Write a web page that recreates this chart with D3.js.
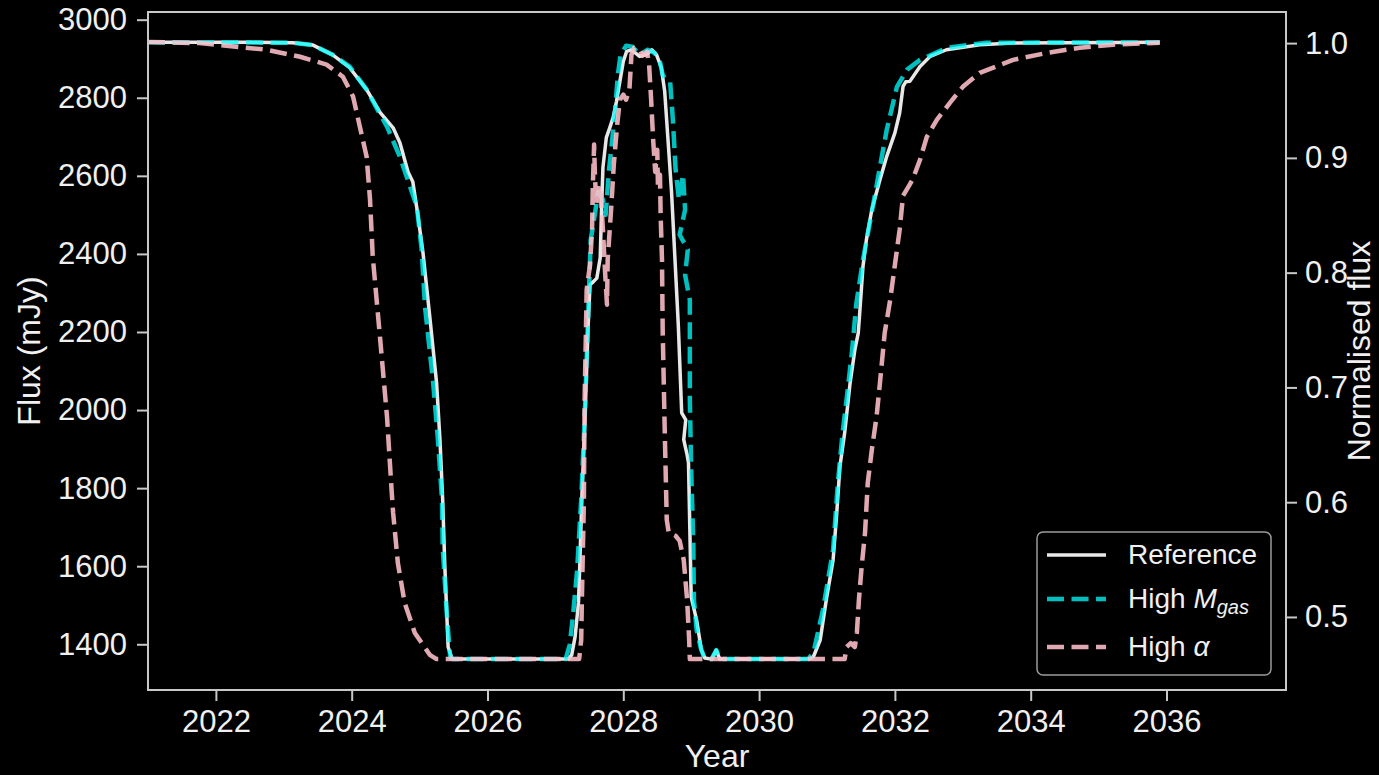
<!DOCTYPE html>
<html>
<head>
<meta charset="utf-8">
<script src="https://cdn.jsdelivr.net/npm/d3@7"></script>
<style>
  html, body { margin: 0; padding: 0; background: #000; overflow: hidden; }
  svg { display: block; }
  text { font-family: "Liberation Sans", Arial, Helvetica, sans-serif; fill: #f0f0f0; }
</style>
</head>
<body>
<svg id="chart" width="1379" height="775"></svg>
<script>
// Axis ticks
const yearTicks = [2022, 2024, 2026, 2028, 2030, 2032, 2034, 2036];
const fluxTicks = [1400, 1600, 1800, 2000, 2200, 2400, 2600, 2800, 3000];
const normTicks = [0.5, 0.6, 0.7, 0.8, 0.9, 1.0];

// Flux used to normalise the right-hand axis (mJy)
const normFlux = 2940;

// Light curves: [year, flux in mJy]
const referenceSeries = [
  [2021.00, 2942], [2022.50, 2942], [2023.13, 2941], [2023.43, 2935], [2023.72, 2910],
  [2023.97, 2877], [2024.22, 2821], [2024.42, 2762], [2024.61, 2723], [2024.71, 2685],
  [2024.83, 2610], [2024.90, 2585], [2024.97, 2505], [2025.05, 2403], [2025.15, 2239],
  [2025.25, 2070], [2025.30, 1924], [2025.34, 1770], [2025.37, 1608], [2025.42, 1393],
  [2025.48, 1362], [2027.19, 1362], [2027.24, 1373], [2027.29, 1419], [2027.34, 1506],
  [2027.36, 1608], [2027.39, 1778], [2027.43, 1949], [2027.48, 2206], [2027.51, 2321],
  [2027.56, 2329], [2027.61, 2338], [2027.66, 2390], [2027.68, 2518], [2027.70, 2621],
  [2027.75, 2698], [2027.80, 2723], [2027.85, 2749], [2027.90, 2791], [2027.95, 2842],
  [2028.00, 2893], [2028.05, 2919], [2028.12, 2923], [2028.24, 2906], [2028.34, 2910],
  [2028.42, 2923], [2028.49, 2910], [2028.56, 2877], [2028.61, 2816], [2028.66, 2688],
  [2028.71, 2560], [2028.76, 2390], [2028.81, 2218], [2028.86, 1993], [2028.92, 1975],
  [2028.89, 1924], [2028.94, 1885], [2028.96, 1865], [2028.98, 1693], [2029.00, 1521],
  [2029.08, 1462], [2029.15, 1385], [2029.20, 1365], [2029.30, 1362], [2029.37, 1385],
  [2029.42, 1362], [2030.72, 1362], [2030.80, 1368], [2030.90, 1411], [2030.99, 1514],
  [2031.09, 1616], [2031.14, 1727], [2031.19, 1855], [2031.26, 1941], [2031.34, 2069],
  [2031.41, 2154], [2031.46, 2197], [2031.48, 2244], [2031.53, 2368], [2031.58, 2436],
  [2031.66, 2513], [2031.78, 2590], [2031.88, 2650], [2032.00, 2710], [2032.07, 2761],
  [2032.12, 2829], [2032.16, 2841], [2032.22, 2842], [2032.37, 2880], [2032.52, 2906],
  [2032.76, 2923], [2033.25, 2936], [2033.74, 2940], [2035.90, 2942]
];

const highGasSeries = [
  [2021.00, 2942], [2023.13, 2941], [2023.43, 2935], [2023.72, 2910], [2023.97, 2880],
  [2024.22, 2821], [2024.42, 2757], [2024.52, 2726], [2024.71, 2649], [2024.86, 2572],
  [2024.96, 2521], [2025.03, 2411], [2025.08, 2264], [2025.20, 2070], [2025.27, 1924],
  [2025.33, 1770], [2025.34, 1649], [2025.40, 1480], [2025.45, 1367], [2025.49, 1362],
  [2027.15, 1362], [2027.21, 1398], [2027.26, 1475], [2027.32, 1590], [2027.38, 1770],
  [2027.43, 1975], [2027.49, 2282], [2027.52, 2436], [2027.58, 2500], [2027.63, 2559],
  [2027.70, 2539], [2027.74, 2500], [2027.79, 2616], [2027.83, 2680], [2027.88, 2769],
  [2027.92, 2859], [2027.96, 2910], [2028.04, 2933], [2028.13, 2931], [2028.24, 2910],
  [2028.36, 2923], [2028.46, 2915], [2028.54, 2892], [2028.58, 2859], [2028.61, 2851],
  [2028.69, 2841], [2028.73, 2744], [2028.77, 2616], [2028.82, 2539], [2028.88, 2603],
  [2028.91, 2513], [2028.83, 2449], [2028.95, 2411], [2028.91, 2346], [2028.98, 2282],
  [2028.98, 2026], [2029.00, 1847], [2029.03, 1667], [2029.04, 1514], [2029.08, 1437],
  [2029.14, 1391], [2029.20, 1362], [2029.30, 1362], [2029.37, 1385], [2029.42, 1362],
  [2030.72, 1362], [2030.80, 1378], [2030.94, 1488], [2031.09, 1642], [2031.16, 1813],
  [2031.23, 1942], [2031.31, 2059], [2031.37, 2154], [2031.43, 2270], [2031.53, 2385],
  [2031.68, 2526], [2031.78, 2623], [2031.88, 2718], [2032.03, 2828], [2032.18, 2872],
  [2032.37, 2897], [2032.77, 2928], [2033.35, 2941], [2035.90, 2942]
];

const highAlphaSeries = [
  [2021.00, 2943], [2021.76, 2940], [2022.75, 2923], [2023.24, 2905], [2023.63, 2885],
  [2023.87, 2854], [2024.02, 2803], [2024.12, 2726], [2024.22, 2649], [2024.27, 2539],
  [2024.31, 2393], [2024.42, 2180], [2024.52, 1983], [2024.59, 1788], [2024.61, 1737],
  [2024.68, 1608], [2024.78, 1506], [2024.93, 1429], [2025.15, 1373], [2025.25, 1362],
  [2027.35, 1362], [2027.38, 1411], [2027.39, 1514], [2027.42, 1770], [2027.43, 2026],
  [2027.45, 2206], [2027.46, 2308], [2027.51, 2372], [2027.54, 2462], [2027.55, 2564],
  [2027.57, 2680], [2027.58, 2616], [2027.60, 2526], [2027.66, 2577], [2027.70, 2462],
  [2027.73, 2359], [2027.76, 2270], [2027.77, 2385], [2027.82, 2513], [2027.86, 2628],
  [2027.91, 2731], [2027.95, 2795], [2028.00, 2808], [2028.04, 2795], [2028.09, 2821],
  [2028.12, 2910], [2028.16, 2928], [2028.24, 2923], [2028.28, 2908], [2028.35, 2918],
  [2028.38, 2885], [2028.41, 2795], [2028.44, 2692], [2028.47, 2610], [2028.50, 2667],
  [2028.51, 2577], [2028.54, 2603], [2028.55, 2500], [2028.57, 2385], [2028.58, 2206],
  [2028.61, 1949], [2028.64, 1719], [2028.67, 1685], [2028.77, 1678], [2028.83, 1665],
  [2028.89, 1616], [2028.94, 1514], [2028.97, 1411], [2028.98, 1362], [2031.26, 1362],
  [2031.29, 1393], [2031.35, 1403], [2031.41, 1393], [2031.44, 1429], [2031.47, 1514],
  [2031.51, 1598], [2031.56, 1685], [2031.60, 1813], [2031.66, 1898], [2031.73, 1983],
  [2031.78, 2070], [2031.85, 2198], [2031.93, 2282], [2032.00, 2372], [2032.07, 2462],
  [2032.12, 2549], [2032.19, 2569], [2032.26, 2590], [2032.37, 2641], [2032.47, 2700],
  [2032.62, 2744], [2032.81, 2787], [2033.00, 2828], [2033.25, 2864], [2033.74, 2897],
  [2034.24, 2915], [2034.72, 2928], [2035.21, 2936], [2035.90, 2941]
];

const seriesNames = ["Reference", "High M_gas", "High α"];

// Layout
const W = 1379, H = 775;
const plot = { left: 148, right: 1286, top: 12, bottom: 690 };

const svg = d3.select("#chart");
svg.append("rect").attr("width", W).attr("height", H).attr("fill", "#000");

const x = d3.scaleLinear().domain([2021.0, 2037.76]).range([plot.left, plot.right]);
const y = d3.scaleLinear().domain([1282.9, 3019.7]).range([plot.bottom, plot.top]);
const yNorm = d3.scaleLinear()
  .domain([1282.9 / normFlux, 3019.7 / normFlux])
  .range([plot.bottom, plot.top]);

const axisColor = "#c8c8c8";
const tickFont = 31;

function styleAxis(g) {
  g.select(".domain").remove();
  g.selectAll(".tick line").attr("stroke", axisColor).attr("stroke-width", 2);
  g.selectAll(".tick text")
    .attr("fill", "#f0f0f0")
    .style("font-size", tickFont + "px")
    .style("font-family", '"Liberation Sans", Arial, sans-serif');
}

svg.append("g")
  .attr("transform", `translate(${plot.left},0)`)
  .call(d3.axisLeft(y).tickValues(fluxTicks).tickSize(11).tickPadding(10).tickFormat(d3.format("d")))
  .call(styleAxis);

svg.append("g")
  .attr("transform", `translate(${plot.right},0)`)
  .call(d3.axisRight(yNorm).tickValues(normTicks).tickSize(11).tickPadding(8).tickFormat(d3.format(".1f")))
  .call(styleAxis);

svg.append("g")
  .attr("transform", `translate(0,${plot.bottom})`)
  .call(d3.axisBottom(x).tickValues(yearTicks).tickSize(11).tickPadding(9).tickFormat(d3.format("d")))
  .call(styleAxis);

// Curves
svg.append("clipPath").attr("id", "plotClip")
  .append("rect")
  .attr("x", plot.left).attr("y", plot.top)
  .attr("width", plot.right - plot.left).attr("height", plot.bottom - plot.top);

const line = d3.line().x(d => x(d[0])).y(d => y(d[1]));
const curves = svg.append("g").attr("clip-path", "url(#plotClip)");

const styles = [
  { data: referenceSeries, color: "#e8e8e8", opacity: 1, width: 3.5, dash: null },
  { data: highGasSeries, color: "#00ffff", opacity: 0.75, width: 4.5, dash: "17,7.5" },
  { data: highAlphaSeries, color: "#ffc0cb", opacity: 0.88, width: 4.5, dash: "17,7.5" }
];

styles.forEach(s => {
  curves.append("path")
    .datum(s.data)
    .attr("d", line)
    .attr("fill", "none")
    .attr("stroke", s.color)
    .attr("stroke-opacity", s.opacity)
    .attr("stroke-width", s.width)
    .attr("stroke-linejoin", "round")
    .attr("stroke-dasharray", s.dash);
});

// Frame
svg.append("rect")
  .attr("x", plot.left).attr("y", plot.top)
  .attr("width", plot.right - plot.left).attr("height", plot.bottom - plot.top)
  .attr("fill", "none").attr("stroke", axisColor).attr("stroke-width", 2);

// Axis titles
svg.append("text")
  .attr("transform", `translate(40,${(plot.top + plot.bottom) / 2}) rotate(-90)`)
  .attr("text-anchor", "middle")
  .style("font-size", "32px")
  .text("Flux (mJy)");

svg.append("text")
  .attr("transform", `translate(1370,${(plot.top + plot.bottom) / 2}) rotate(-90)`)
  .attr("text-anchor", "middle")
  .style("font-size", "32px")
  .text("Normalised flux");

svg.append("text")
  .attr("x", (plot.left + plot.right) / 2)
  .attr("y", 767)
  .attr("text-anchor", "middle")
  .style("font-size", "32px")
  .text("Year");

// Legend
const legend = svg.append("g");
legend.append("rect")
  .attr("x", 1037).attr("y", 532).attr("width", 234).attr("height", 143)
  .attr("rx", 6).attr("ry", 6)
  .attr("fill", "#000").attr("fill-opacity", 0.8)
  .attr("stroke", "#9a9a9a").attr("stroke-width", 1.5);

const rowY = [555, 599, 647];
styles.forEach((s, i) => {
  legend.append("line")
    .attr("x1", 1047).attr("x2", 1106)
    .attr("y1", rowY[i]).attr("y2", rowY[i])
    .attr("stroke", s.color)
    .attr("stroke-opacity", s.opacity)
    .attr("stroke-width", s.width)
    .attr("stroke-dasharray", s.dash);

  const t = legend.append("text")
    .attr("x", 1128).attr("y", rowY[i] + 9)
    .style("font-size", "28px");
  const name = seriesNames[i];
  if (name.includes("_")) {
    const [base, sub] = name.split("_");
    const parts = base.split(" ");
    t.append("tspan").text(parts[0] + " ");
    t.append("tspan").style("font-style", "italic").text(parts[1]);
    t.append("tspan").style("font-style", "italic").style("font-size", "20px")
      .attr("dy", 6).text(sub);
  } else if (name.includes("α")) {
    const parts = name.split(" ");
    t.append("tspan").text(parts[0] + " ");
    t.append("tspan").style("font-style", "italic").text(parts[1]);
  } else {
    t.text(name);
  }
});
</script>
</body>
</html>
